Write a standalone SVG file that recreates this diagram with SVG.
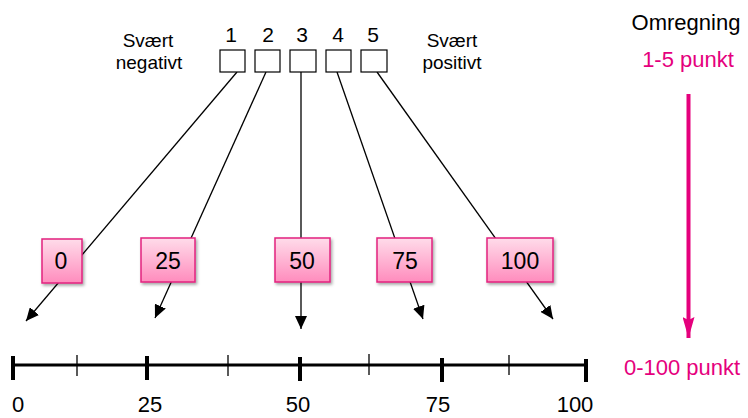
<svg xmlns="http://www.w3.org/2000/svg" width="748" height="418" viewBox="0 0 748 418">
  <defs>
    <linearGradient id="pinkGrad" x1="0" y1="0" x2="0" y2="1">
      <stop offset="0" stop-color="#ffdcea"/>
      <stop offset="1" stop-color="#ff8cbd"/>
    </linearGradient>
    <filter id="shadow" x="-20%" y="-20%" width="150%" height="150%">
      <feDropShadow dx="1.5" dy="2" stdDeviation="1.5" flood-color="#000" flood-opacity="0.35"/>
    </filter>
    <marker id="arrowBlack" markerUnits="userSpaceOnUse" markerWidth="14" markerHeight="12" refX="13" refY="6" orient="auto">
      <path d="M0,0 L13,6 L0,12 Z" fill="#000"/>
    </marker>
    <marker id="arrowPink" markerUnits="userSpaceOnUse" markerWidth="22" markerHeight="12" refX="21" refY="6" orient="auto">
      <path d="M0,0 L21,6 L0,12 L3,6 Z" fill="#e5007d"/>
    </marker>
  </defs>
  <style>
    text { font-family: "Liberation Sans", Arial, sans-serif; fill: #000; }
    .scale-box { fill: #fff; stroke: #000; stroke-width: 1.2; }
    .pink-box { fill: url(#pinkGrad); stroke: #e2237f; stroke-width: 1.5; filter: url(#shadow); }
    .conn { stroke: #000; stroke-width: 1.3; fill: none; marker-end: url(#arrowBlack); }
    .axis { stroke: #000; fill: none; }
    .pinktext { fill: #e5007d; }
  </style>

  <!-- Connectors (drawn below pink boxes) -->
  <g id="connectors">
    <line class="conn" x1="237" y1="72" x2="26" y2="321"/>
    <line class="conn" x1="266" y1="72" x2="155" y2="318"/>
    <line class="conn" x1="301" y1="72" x2="301" y2="329"/>
    <line class="conn" x1="337" y1="72" x2="423" y2="319"/>
    <line class="conn" x1="377" y1="72" x2="553" y2="319"/>
    <line x1="688.5" y1="94" x2="688.5" y2="338" stroke="#e5007d" stroke-width="4" marker-end="url(#arrowPink)"/>
  </g>

  <!-- Top scale labels -->
  <g id="label-negative">
    <text x="148" y="47" font-size="19" text-anchor="middle">Svært</text>
    <text x="149" y="69" font-size="19" text-anchor="middle">negativt</text>
  </g>
  <g id="label-positive">
    <text x="452" y="47" font-size="19" text-anchor="middle">Svært</text>
    <text x="452" y="69" font-size="19" text-anchor="middle">positivt</text>
  </g>

  <!-- Top scale boxes -->
  <g id="box1">
    <text x="231" y="42" font-size="21" text-anchor="middle">1</text>
    <rect class="scale-box" x="220" y="50" width="25" height="22"/>
  </g>
  <g id="box2">
    <text x="268" y="42" font-size="21" text-anchor="middle">2</text>
    <rect class="scale-box" x="255" y="50" width="25" height="22"/>
  </g>
  <g id="box3">
    <text x="302" y="42" font-size="21" text-anchor="middle">3</text>
    <rect class="scale-box" x="290" y="50" width="26" height="22"/>
  </g>
  <g id="box4">
    <text x="338" y="42" font-size="21" text-anchor="middle">4</text>
    <rect class="scale-box" x="326" y="50" width="25" height="22"/>
  </g>
  <g id="box5">
    <text x="373" y="42" font-size="21" text-anchor="middle">5</text>
    <rect class="scale-box" x="361" y="50" width="26" height="22"/>
  </g>

  <!-- Pink value boxes -->
  <g id="val0">
    <rect class="pink-box" x="42" y="239" width="40" height="44"/>
    <text x="61" y="269" font-size="23" text-anchor="middle">0</text>
  </g>
  <g id="val25">
    <rect class="pink-box" x="141" y="238" width="54" height="44"/>
    <text x="168" y="269" font-size="23" text-anchor="middle">25</text>
  </g>
  <g id="val50">
    <rect class="pink-box" x="275" y="238" width="55" height="44"/>
    <text x="302" y="269" font-size="23" text-anchor="middle">50</text>
  </g>
  <g id="val75">
    <rect class="pink-box" x="377" y="238" width="55" height="44"/>
    <text x="405" y="269" font-size="23" text-anchor="middle">75</text>
  </g>
  <g id="val100">
    <rect class="pink-box" x="487" y="238" width="66" height="44"/>
    <text x="520" y="269" font-size="23" text-anchor="middle">100</text>
  </g>

  <!-- Right side labels -->
  <g id="conversion">
    <text x="686" y="30" font-size="22" text-anchor="middle">Omregning</text>
    <text class="pinktext" x="688" y="67" font-size="22" text-anchor="middle">1-5 punkt</text>
    <text class="pinktext" x="682" y="375" font-size="22" text-anchor="middle">0-100 punkt</text>
  </g>

  <!-- Axis -->
  <g id="axis">
    <line class="axis" x1="13" y1="365" x2="586" y2="365" stroke-width="3"/>
    <line class="axis" x1="13" y1="356" x2="13" y2="380" stroke-width="4"/>
    <line class="axis" x1="147" y1="356" x2="147" y2="380" stroke-width="4"/>
    <line class="axis" x1="300" y1="357" x2="300" y2="381" stroke-width="4"/>
    <line class="axis" x1="442" y1="358" x2="442" y2="382" stroke-width="4"/>
    <line class="axis" x1="586" y1="359" x2="586" y2="382" stroke-width="4"/>
    <line class="axis" x1="77" y1="355" x2="77" y2="376" stroke-width="1.3"/>
    <line class="axis" x1="228" y1="355" x2="228" y2="376" stroke-width="1.3"/>
    <line class="axis" x1="369" y1="354" x2="369" y2="375" stroke-width="1.3"/>
    <line class="axis" x1="509" y1="355" x2="509" y2="375" stroke-width="1.3"/>
    <text x="18" y="412" font-size="22" text-anchor="middle">0</text>
    <text x="150" y="412" font-size="22" text-anchor="middle">25</text>
    <text x="298" y="412" font-size="22" text-anchor="middle">50</text>
    <text x="438" y="412" font-size="22" text-anchor="middle">75</text>
    <text x="575" y="412" font-size="22" text-anchor="middle">100</text>
  </g>
</svg>
